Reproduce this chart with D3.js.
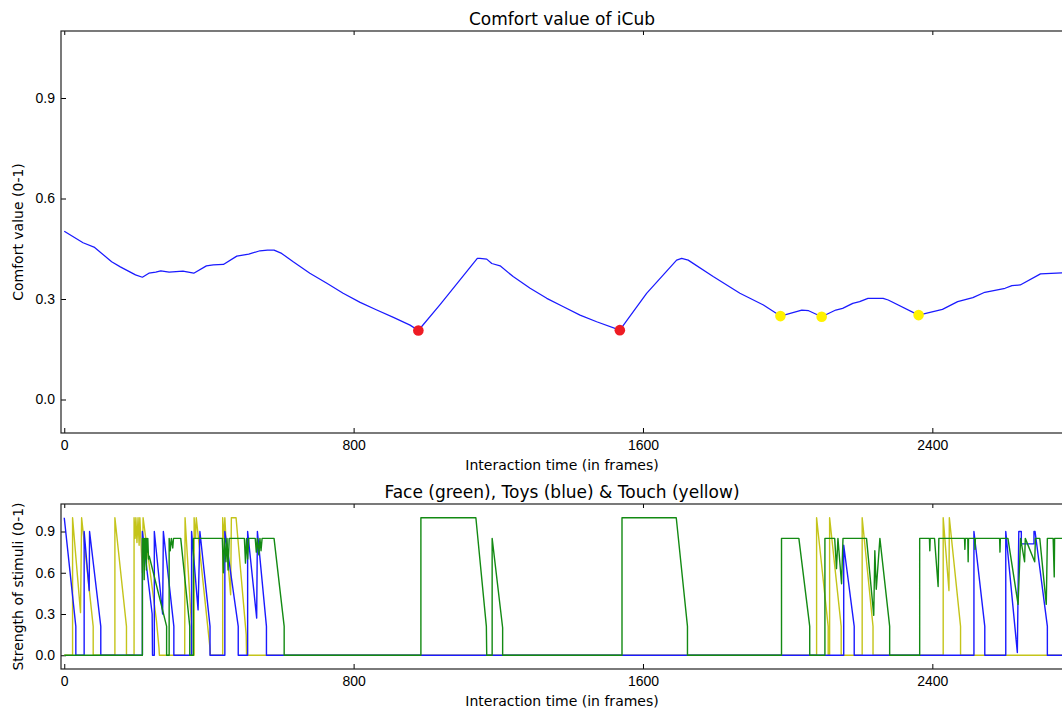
<!DOCTYPE html>
<html>
<head>
<meta charset="utf-8">
<script src="https://cdn.jsdelivr.net/npm/d3@7"></script>
<style>
  html, body { margin: 0; padding: 0; background: #fff; }
  svg { display: block; font-family: "DejaVu Sans", sans-serif; }
  .tick text { font-size: 14px; fill: #000; }
  .tick line { stroke: #000; stroke-width: 1; }
</style>
</head>
<body>
<svg id="fig" width="1062" height="711"></svg>
<script>
// Frame ticks shared by both panels
const xTicks = [0, 800, 1600, 2400];
const yTicks = [0.0, 0.3, 0.6, 0.9];

// Comfort value over interaction time: [frame, value]
const comfort = [
  [0,0.502],[52,0.468],[84,0.454],[131,0.411],[155,0.396],[197,0.372],[216,0.365],
  [234,0.377],[253,0.380],[267,0.384],[290,0.380],[328,0.383],[358,0.377],[393,0.399],
  [412,0.402],[440,0.403],[477,0.428],[510,0.434],[541,0.444],[562,0.446],[580,0.446],
  [601,0.436],[633,0.411],[679,0.377],[726,0.347],[771,0.317],[818,0.290],[864,0.267],
  [910,0.245],[956,0.222],[979,0.206],[1039,0.283],[1142,0.421],[1149,0.421],[1168,0.419],
  [1182,0.406],[1205,0.399],[1241,0.367],[1288,0.332],[1334,0.302],[1380,0.277],
  [1426,0.252],[1472,0.232],[1536,0.207],[1610,0.317],[1693,0.416],[1707,0.421],
  [1725,0.416],[1794,0.367],[1868,0.317],[1933,0.282],[1980,0.249],[2039,0.267],
  [2058,0.265],[2094,0.247],[2133,0.267],[2152,0.272],[2180,0.287],[2199,0.292],
  [2222,0.302],[2264,0.302],[2278,0.297],[2362,0.252],[2428,0.269],[2470,0.292],
  [2512,0.304],[2545,0.320],[2601,0.332],[2620,0.340],[2643,0.342],[2699,0.375],
  [2758,0.378],[2775,0.379]
];

// Lowest-comfort events (red) and touch events (yellow)
const lowPoints = [[979,0.206],[1536,0.207]];
const touchPoints = [[1980,0.249],[2094,0.247],[2362,0.252]];

// Stimulus strengths: [frame, value]
const touch = [
  [0,0],[23,0],[23,1.0],[45,0.31],[48,1.0],[80,0.21],[80,0],[140,0],[140,1.0],[172,0.21],[172,0],
  [193,0],[193,1.0],[196,0.85],[198,1.0],[201,0.82],[204,1.0],[207,0.8],[209,1.0],[216,0.6],
  [218,1.0],[255,0.25],[262,0.05],[263,0],[333,0],[334,1.0],[352,0.21],[352,0],[359,0],
  [359,1.0],[363,0.85],[365,1.0],[403,0.05],[404,0],[438,0],[438,1.0],[441,0.85],[444,1.0],
  [447,0.85],[460,0.44],[462,1.0],[475,1.0],[503,0.15],[504,0],[2080,0],[2080,1.0],
  [2112,0.21],[2112,0],[2116,0],[2116,1.0],[2148,0.21],[2148,0],[2206,0],[2206,1.0],
  [2236,0.21],[2236,0],[2430,0],[2430,1.0],[2446,0.47],[2447,1.0],[2478,0.21],[2478,0],[2770,0]
];

const toys = [
  [0,1.0],[32,0.21],[32,0],[55,0],[55,0.9],[69,0.47],[70,0.9],[101,0.21],[101,0],
  [216,0],[216,0.9],[243,0.3],[244,0],[249,0],[249,0.9],[272,0.3],[274,0.9],[303,0.21],[303,0],
  [352,0],[352,0.9],[370,0.33],[375,0.9],[403,0.21],[403,0],[444,0],[444,0.9],[481,0.21],[481,0],
  [507,0],[507,0.9],[532,0.27],[534,0.9],[559,0.21],[559,0],[2155,0],[2155,0.8],[2184,0.21],
  [2184,0],[2515,0],[2515,0.9],[2545,0.21],[2545,0],[2603,0],[2603,0.9],[2635,0.02],[2639,0.9],
  [2646,0.9],[2646,0.81],[2681,0.81],[2681,0.9],[2684,0.9],[2718,0.21],[2718,0],[2770,0]
];

const face = [
  [0,0],[216,0],[216,0.85],[218,0.72],[219,0.85],[221,0.55],[222,0.85],[224,0.7],[225,0.85],
  [227,0.62],[228,0.85],[230,0.75],[231,0.85],[233,0.7],[235,0.72],[283,0.21],[283,0],[290,0],
  [290,0.85],[293,0.76],[296,0.85],[300,0.78],[302,0.85],[322,0.85],[347,0.21],[347,0],[357,0],
  [357,0.85],[437,0.85],[440,0.6],[443,0.85],[447,0.68],[450,0.85],[453,0.62],[456,0.85],
  [498,0.85],[501,0.67],[504,0.85],[507,0.7],[510,0.85],[528,0.85],[531,0.75],[534,0.85],
  [538,0.73],[541,0.85],[544,0.76],[547,0.85],[580,0.85],[608,0.21],[608,0],[986,0],[986,1.0],
  [1138,1.0],[1167,0.21],[1168,0],[1183,0],[1183,0.85],[1212,0.2],[1212,0],[1542,0],[1542,1.0],
  [1692,1.0],[1723,0.21],[1723,0],[1983,0],[1983,0.85],[2031,0.85],[2061,0.21],[2061,0],
  [2103,0],[2103,0.85],[2130,0.85],[2135,0.63],[2139,0.85],[2149,0.52],[2153,0.85],[2218,0.85],
  [2238,0.29],[2241,0.76],[2245,0.48],[2255,0.85],[2282,0.21],[2282,0],[2365,0],[2365,0.85],
  [2392,0.85],[2393,0.76],[2394,0.85],[2406,0.85],[2416,0.5],[2418,0.85],[2489,0.85],
  [2490,0.77],[2491,0.85],[2498,0.85],[2499,0.68],[2500,0.85],[2517,0.85],[2518,0.77],
  [2519,0.85],[2586,0.85],[2587,0.75],[2588,0.85],[2609,0.85],[2637,0.37],[2644,0.85],
  [2655,0.68],[2657,0.85],[2683,0.68],[2685,0.85],[2697,0.85],[2715,0.37],[2718,0.85],
  [2734,0.85],[2737,0.57],[2738,0.85],[2770,0.85]
];

const svg = d3.select("#fig");
const xDomain = [-9, 2764];
const left = 61, right = 1064;

function panel(id, top, bottom, title, ylabel) {
  const g = svg.append("g").attr("id", id);
  const x = d3.scaleLinear().domain(xDomain).range([left, right]);
  const y = d3.scaleLinear().domain([-0.1, 1.1]).range([bottom, top]);

  g.append("clipPath").attr("id", id + "-clip")
    .append("rect").attr("x", left).attr("y", top)
    .attr("width", right - left).attr("height", bottom - top);

  // inward ticks on all visible sides
  g.append("g").attr("transform", `translate(0,${bottom})`)
    .call(d3.axisBottom(x).tickValues(xTicks).tickSize(-5).tickSizeOuter(0).tickPadding(7.5)
      .tickFormat(d3.format("d")))
    .call(a => a.select(".domain").remove());
  g.append("g").attr("transform", `translate(0,${top})`)
    .call(d3.axisTop(x).tickValues(xTicks).tickSize(-4).tickSizeOuter(0).tickFormat(""))
    .call(a => a.select(".domain").remove());
  g.append("g").attr("transform", `translate(${left},0)`)
    .call(d3.axisLeft(y).tickValues(yTicks).tickSize(-5).tickSizeOuter(0).tickPadding(6)
      .tickFormat(d3.format(".1f")))
    .call(a => a.select(".domain").remove());

  g.append("rect").attr("x", left).attr("y", top)
    .attr("width", right - left).attr("height", bottom - top)
    .attr("fill", "none").attr("stroke", "#222").attr("stroke-width", 1.2);

  g.append("text").attr("x", 562).attr("y", top - 6)
    .attr("text-anchor", "middle").attr("font-size", 17).text(title);
  g.append("text").attr("x", 562).attr("y", bottom + 37)
    .attr("text-anchor", "middle").attr("font-size", 14).text("Interaction time (in frames)");
  g.append("text")
    .attr("transform", `translate(23,${(top + bottom) / 2}) rotate(-90)`)
    .attr("text-anchor", "middle").attr("font-size", 14).text(ylabel);

  const plot = g.append("g").attr("clip-path", `url(#${id}-clip)`);
  return { x, y, plot };
}

// Comfort panel
const p1 = panel("comfort", 31, 433, "Comfort value of iCub", "Comfort value (0-1)");
const line1 = d3.line().x(d => p1.x(d[0])).y(d => p1.y(d[1]));
p1.plot.append("path").datum(comfort)
  .attr("d", line1).attr("fill", "none").attr("stroke", "#1a1aff")
  .attr("stroke-width", 1.25).attr("stroke-linejoin", "round");
p1.plot.selectAll("circle.low").data(lowPoints).join("circle")
  .attr("class", "low").attr("cx", d => p1.x(d[0])).attr("cy", d => p1.y(d[1]))
  .attr("r", 5.3).attr("fill", "#ee1c24");
p1.plot.selectAll("circle.touch").data(touchPoints).join("circle")
  .attr("class", "touch").attr("cx", d => p1.x(d[0])).attr("cy", d => p1.y(d[1]))
  .attr("r", 5.3).attr("fill", "#fff200");

// Stimuli panel
const p2 = panel("stimuli", 504, 669, "Face (green), Toys (blue) & Touch (yellow)", "Strength of stimuli (0-1)");
const line2 = d3.line().x(d => p2.x(d[0])).y(d => p2.y(d[1]));
[[touch, "#c4c41a"], [toys, "#1a1aff"], [face, "#138a13"]].forEach(([s, c]) => {
  p2.plot.append("path").datum(s)
    .attr("d", line2).attr("fill", "none").attr("stroke", c)
    .attr("stroke-width", 1.4).attr("stroke-linejoin", "round");
});
</script>
</body>
</html>
